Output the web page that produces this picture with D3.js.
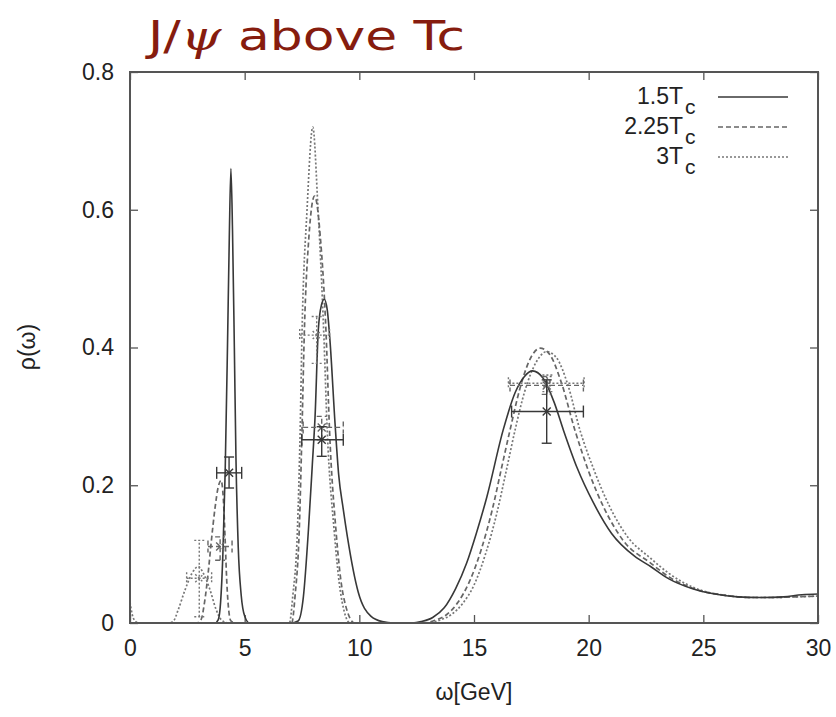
<!DOCTYPE html>
<html>
<head>
<meta charset="utf-8">
<script src="https://cdn.jsdelivr.net/npm/d3@7"></script>
<style>
  html, body { margin: 0; padding: 0; background: #fff; }
  svg { display: block; }
</style>
</head>
<body>
<svg id="chart" width="836" height="717"></svg>
<script>
// Spectral functions rho(omega) at three temperatures, [omega (GeV), rho] pairs
const rho15 = [
  [0, 0], [3.7, 0], [3.85, 0.005], [3.95, 0.03], [4.05, 0.1], [4.15, 0.22], [4.25, 0.40],
  [4.33, 0.56], [4.40, 0.66], [4.47, 0.57], [4.55, 0.40], [4.62, 0.24], [4.72, 0.11],
  [4.85, 0.04], [5.0, 0.01], [5.2, 0], [7.0, 0], [7.33, 0.003], [7.56, 0.038],
  [7.78, 0.135], [7.95, 0.23], [8.07, 0.30], [8.21, 0.425], [8.35, 0.462], [8.47, 0.47],
  [8.6, 0.455], [8.72, 0.41], [8.94, 0.29], [9.1, 0.215], [9.3, 0.165], [9.48, 0.125],
  [9.95, 0.045], [10.5, 0.01], [11.0, 0.002], [11.5, 0], [12.3, 0], [12.7, 0.002],
  [13.2, 0.008], [13.7, 0.022], [14.2, 0.05], [14.68, 0.087], [15.1, 0.13], [15.56, 0.183],
  [16.27, 0.28], [16.8, 0.335], [17.2, 0.358], [17.55, 0.366], [18.0, 0.356], [18.5, 0.32],
  [18.9, 0.28], [19.5, 0.225], [20.2, 0.175], [21.0, 0.13], [22.0, 0.097], [22.7, 0.082],
  [23.5, 0.064], [24.5, 0.05], [25.5, 0.042], [26.5, 0.038], [27.5, 0.037], [28.5, 0.038],
  [29.3, 0.041], [30, 0.042]
];
const rho225 = [
  [0, 0], [2.9, 0], [3.1, 0.005], [3.25, 0.03], [3.4, 0.07], [3.55, 0.12], [3.7, 0.165],
  [3.85, 0.198], [3.97, 0.207], [4.07, 0.18], [4.15, 0.12], [4.22, 0.06], [4.3, 0.02],
  [4.4, 0.003], [4.6, 0], [7.05, 0], [7.2, 0.04], [7.38, 0.135], [7.5, 0.28], [7.6, 0.42],
  [7.8, 0.56], [8.05, 0.62], [8.3, 0.56], [8.55, 0.42], [8.7, 0.28], [8.98, 0.135],
  [9.3, 0.04], [9.8, 0], [12.8, 0], [13.3, 0.004], [13.8, 0.012], [14.3, 0.03], [14.8, 0.06],
  [15.3, 0.105], [15.8, 0.165], [16.2, 0.225], [16.57, 0.28], [17.0, 0.34], [17.4, 0.38],
  [17.88, 0.399], [18.3, 0.39], [18.8, 0.35], [19.4, 0.28], [20.0, 0.22], [20.7, 0.165],
  [21.5, 0.12], [22.7, 0.087], [23.5, 0.067], [24.85, 0.047], [26.0, 0.04], [27.0, 0.037],
  [28.0, 0.037], [29.0, 0.038], [30, 0.039]
];
const rho3 = [
  [0, 0.03], [0.1, 0.012], [0.25, 0.002], [0.4, 0], [1.7, 0], [1.9, 0.003], [2.1, 0.019],
  [2.4, 0.048], [2.7, 0.072], [2.98, 0.082], [3.2, 0.072], [3.49, 0.048], [3.75, 0.02],
  [4.0, 0.004], [4.3, 0], [6.95, 0], [7.1, 0.04], [7.3, 0.135], [7.42, 0.28], [7.5, 0.42],
  [7.72, 0.6], [7.97, 0.72], [8.2, 0.6], [8.45, 0.42], [8.6, 0.28], [8.9, 0.135],
  [9.2, 0.04], [9.6, 0], [13.0, 0], [13.5, 0.004], [14.0, 0.012], [14.5, 0.028],
  [15.0, 0.055], [15.5, 0.1], [16.0, 0.16], [16.4, 0.22], [16.79, 0.28], [17.2, 0.335],
  [17.7, 0.378], [18.17, 0.394], [18.6, 0.385], [19.1, 0.345], [19.62, 0.28], [20.2, 0.225],
  [20.9, 0.17], [21.7, 0.125], [22.7, 0.094], [23.5, 0.072], [24.85, 0.048], [26.0, 0.04],
  [27.0, 0.037], [28.0, 0.037], [29.0, 0.038], [30, 0.039]
];

// Error-bar points: centre (w, r), omega range [w0, w1], rho range [r0, r1]
const err15 = [
  { w: 4.32, r: 0.218, w0: 3.78, w1: 4.87, r0: 0.196, r1: 0.241 },
  { w: 8.36, r: 0.266, w0: 7.49, w1: 9.30, r0: 0.242, r1: 0.285 },
  { w: 18.17, r: 0.307, w0: 16.64, w1: 19.77, r0: 0.261, r1: 0.353 }
];
const err225 = [
  { w: 3.93, r: 0.111, w0: 3.40, w1: 4.45, r0: 0.091, r1: 0.125 },
  { w: 8.36, r: 0.284, w0: 7.55, w1: 9.30, r0: 0.266, r1: 0.300 },
  { w: 18.17, r: 0.345, w0: 16.57, w1: 19.77, r0: 0.332, r1: 0.358 }
];
const err3 = [
  { w: 3.02, r: 0.065, w0: 2.47, w1: 3.56, r0: 0.009, r1: 0.120 },
  { w: 8.14, r: 0.418, w0: 7.40, w1: 8.70, r0: 0.377, r1: 0.445 },
  { w: 18.20, r: 0.348, w0: 16.50, w1: 19.80, r0: 0.336, r1: 0.360 }
];

const seriesNames = ["1.5T", "2.25T", "3T"];
const xTicks = [0, 5, 10, 15, 20, 25, 30];
const xTickLabels = ["0", "5", "10", "15", "20", "25", "30"];
const yTicks = [0, 0.2, 0.4, 0.6, 0.8];
const yTickLabels = ["0", "0.2", "0.4", "0.6", "0.8"];

const svg = d3.select("#chart");
const plotL = 130, plotR = 818, plotT = 72, plotB = 623;

const x = d3.scaleLinear().domain([0, 30]).range([plotL, plotR]);
const y = d3.scaleLinear().domain([0, 0.8]).range([plotB, plotT]);

const tickFont = "'Liberation Sans', Arial, sans-serif";

// Title
const title = svg.append("text")
  .attr("x", 148).attr("y", 50)
  .attr("fill", "#861c0e")
  .attr("font-family", "'DejaVu Sans', sans-serif")
  .attr("font-size", 41)
  .attr("textLength", 317)
  .attr("lengthAdjust", "spacingAndGlyphs");
title.append("tspan").text("J/");
title.append("tspan").attr("font-family", "'DejaVu Serif', serif").attr("font-style", "italic").text("ψ");
title.append("tspan").text(" above Tc");

// Axes: inward ticks on all four sides
function styleAxis(g) {
  g.select(".domain").remove();
  g.selectAll(".tick line").attr("stroke", "#555").attr("stroke-width", 1.3);
  g.selectAll(".tick text")
    .attr("fill", "#222")
    .attr("font-family", tickFont)
    .attr("font-size", 23);
}

svg.append("g").attr("transform", `translate(0,${plotB})`)
  .call(d3.axisBottom(x).tickValues(xTicks).tickSize(-8).tickPadding(17)
    .tickFormat((d, i) => xTickLabels[i]))
  .call(styleAxis)
  .selectAll(".tick text").attr("dy", "0.71em");

svg.append("g").attr("transform", `translate(0,${plotT})`)
  .call(d3.axisTop(x).tickValues(xTicks).tickSize(-8).tickFormat(""))
  .call(styleAxis);

svg.append("g").attr("transform", `translate(${plotL},0)`)
  .call(d3.axisLeft(y).tickValues(yTicks).tickSize(-8).tickPadding(16)
    .tickFormat((d, i) => yTickLabels[i]))
  .call(styleAxis);

svg.append("g").attr("transform", `translate(${plotR},0)`)
  .call(d3.axisRight(y).tickValues(yTicks).tickSize(-8).tickFormat(""))
  .call(styleAxis);

// Axis titles
svg.append("text")
  .attr("x", (plotL + plotR) / 2).attr("y", 700)
  .attr("text-anchor", "middle")
  .attr("fill", "#222")
  .attr("font-family", tickFont)
  .attr("font-size", 23)
  .text("ω[GeV]");

svg.append("text")
  .attr("transform", "translate(35,347) rotate(-90)")
  .attr("text-anchor", "middle")
  .attr("fill", "#222")
  .attr("font-family", tickFont)
  .attr("font-size", 23)
  .text("ρ(ω)");

// Series styles
const series = [
  { data: rho15, err: err15, color: "#383838", dash: null, width: 1.6 },
  { data: rho225, err: err225, color: "#666", dash: "5,3", width: 1.7 },
  { data: rho3, err: err3, color: "#777", dash: "2,2", width: 1.7 }
];

svg.append("clipPath").attr("id", "plotArea")
  .append("rect").attr("x", plotL).attr("y", plotT - 2)
  .attr("width", plotR - plotL).attr("height", plotB - plotT + 2);

const line = d3.line()
  .x(d => x(d[0]))
  .y(d => y(d[1]))
  .curve(d3.curveMonotoneX);

const plot = svg.append("g").attr("clip-path", "url(#plotArea)");

// Draw the dotted and dashed curves first, the solid one on top
[2, 1, 0].forEach(i => {
  const s = series[i];
  plot.append("path")
    .datum(s.data)
    .attr("d", line)
    .attr("fill", "none")
    .attr("stroke", s.color)
    .attr("stroke-width", s.width)
    .attr("stroke-dasharray", s.dash);
});

// Error bars with caps and a cross at the centre
[2, 1, 0].forEach(i => {
  const s = series[i];
  const g = plot.append("g")
    .attr("stroke", s.color)
    .attr("stroke-width", 1.4)
    .attr("stroke-dasharray", s.dash)
    .attr("fill", "none");
  s.err.forEach(e => {
    const cx = x(e.w), cy = y(e.r);
    const xa = x(e.w0), xb = x(e.w1), ya = y(e.r0), yb = y(e.r1);
    g.append("line").attr("x1", xa).attr("x2", xb).attr("y1", cy).attr("y2", cy);
    g.append("line").attr("x1", xa).attr("x2", xa).attr("y1", cy - 6).attr("y2", cy + 6);
    g.append("line").attr("x1", xb).attr("x2", xb).attr("y1", cy - 6).attr("y2", cy + 6);
    g.append("line").attr("x1", cx).attr("x2", cx).attr("y1", ya).attr("y2", yb);
    g.append("line").attr("x1", cx - 5).attr("x2", cx + 5).attr("y1", ya).attr("y2", ya);
    g.append("line").attr("x1", cx - 5).attr("x2", cx + 5).attr("y1", yb).attr("y2", yb);
    g.append("path")
      .attr("d", `M${cx - 4},${cy - 4}L${cx + 4},${cy + 4}M${cx - 4},${cy + 4}L${cx + 4},${cy - 4}`)
      .attr("stroke-dasharray", null);
  });
});

// Frame
svg.append("rect")
  .attr("x", plotL).attr("y", plotT)
  .attr("width", plotR - plotL).attr("height", plotB - plotT)
  .attr("fill", "none")
  .attr("stroke", "#555")
  .attr("stroke-width", 2);

// Key, top right
const key = svg.append("g");
series.forEach((s, i) => {
  const ky = 97 + i * 30;
  key.append("text")
    .attr("x", 683).attr("y", ky + 7)
    .attr("text-anchor", "end")
    .attr("fill", "#222")
    .attr("font-family", tickFont)
    .attr("font-size", 23)
    .text(seriesNames[i]);
  key.append("text")
    .attr("x", 685).attr("y", ky + 17)
    .attr("fill", "#222")
    .attr("font-family", tickFont)
    .attr("font-size", 21)
    .text("c");
  key.append("line")
    .attr("x1", 718).attr("x2", 788)
    .attr("y1", ky).attr("y2", ky)
    .attr("stroke", s.color)
    .attr("stroke-width", s.width)
    .attr("stroke-dasharray", s.dash);
});
</script>
</body>
</html>
